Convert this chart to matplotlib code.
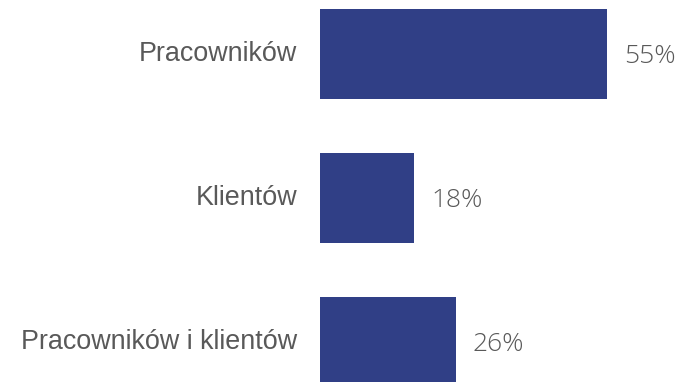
import matplotlib.pyplot as plt
from matplotlib.transforms import offset_copy

categories = ["Pracowników", "Klientów", "Pracowników i klientów"]
values = [55, 18, 26]
value_labels = ["55%", "18%", "26%"]

BAR_COLOR = "#303F86"
TEXT_COLOR = "#595959"

fig = plt.figure(figsize=(6.82, 3.82), dpi=100)
ax = fig.add_axes([320 / 682, 0, 1 - 320 / 682, 1])

positions = list(range(len(categories)))
ax.barh(positions, values, height=0.625, color=BAR_COLOR)
ax.set_xlim(0, 69.3)
ax.set_ylim(2.278, -0.375)
ax.axis("off")

# Category names sit to the left of the axes, right aligned.
label_tr = offset_copy(ax.get_yaxis_transform(), fig=fig, x=-23, y=0, units="dots")
for pos, name in zip(positions, categories):
    ax.text(0, pos, name, transform=label_tr, ha="right", va="center",
            fontsize=19.4, color=TEXT_COLOR, family="Liberation Sans", clip_on=False)

value_tr = offset_copy(ax.transData, fig=fig, x=17, y=-3, units="dots")
for pos, val, lab in zip(positions, values, value_labels):
    ax.text(val, pos, lab, transform=value_tr, ha="left", va="center",
            fontsize=19, color=TEXT_COLOR, family="Open Sans", fontweight="light",
            clip_on=False)

fig.savefig("out.png", dpi=100)
